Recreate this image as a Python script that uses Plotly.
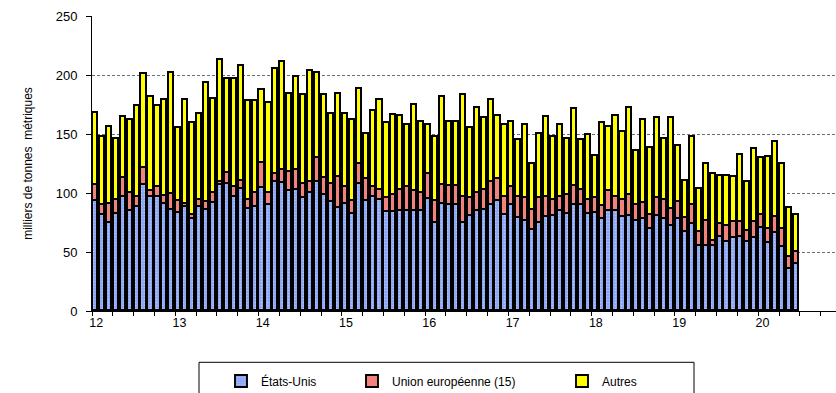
import pandas as pd
import plotly.graph_objects as go

# Monthly shipments, Jan 2012 - Jun 2020 (thousand metric tonnes)
months = pd.date_range("2012-01-01", periods=102, freq="MS").strftime("%Y-%m").tolist()

etats_unis = [
    93, 81, 75, 82, 97, 85, 88, 107, 97, 97, 91, 85.5,
    83, 88, 78, 88.4, 85.8, 91.3, 106.4, 107.7, 96.9, 103.3, 86.7, 88.4,
    104.5, 89.9, 109, 108.5, 101.5, 102.9, 96, 100.3, 109, 98.5, 92.8, 87,
    90.7, 82.2, 107.5, 93, 96.3, 94.3, 83.6, 83.6, 85, 85, 84.5, 85,
    94.9, 74.6, 90.7, 89.8, 89.8, 74.6, 80.8, 85, 85.6, 89.8, 93, 81.4,
    89.8, 78.8, 76.6, 69, 74.6, 79.4, 80.8, 85, 82.2, 89.8, 89.8, 82.2,
    83, 78, 85, 85, 79.4, 80.8, 76.6, 78, 69.5, 80.8, 78, 72.4,
    78, 66.7, 73.8, 55.5, 55.5, 55.5, 62.5, 58.8, 61.7, 62.5, 58.8, 61.7,
    70.1, 57.4, 65.9, 54.1, 35.2, 40,
]
union_europeenne = [
    14, 9, 16, 12, 16, 15, 9, 14, 5, 8, 6.5, 13.5,
    10, 2.5, 3, 5.9, 7, 9, 2.6, 9, 8.6, 7.1, 7.6, 11.9,
    20.8, 10.1, 7.5, 10.6, 16.2, 16.2, 11.7, 8.7, 20.5, 13.8, 14.6, 26.5,
    14.6, 11.3, 17.5, 18.8, 8.4, 8.2, 11.8, 14.9, 17.5, 19.7, 17.5, 15,
    21.6, 18.4, 16.3, 16.2, 16.2, 22.4, 14.6, 15, 17.2, 19.2, 18.8, 15.6,
    14.9, 18.2, 18.8, 16.6, 20.8, 17.6, 13.2, 12, 16.3, 16.2, 13, 12.1,
    12.9, 11.2, 16.4, 12, 14.9, 17.7, 13.4, 13.2, 11.9, 14.6, 16.3, 14,
    14.6, 12.1, 16, 11.7, 21.1, 3.6, 11.3, 13, 13.5, 12.7, 8.8, 13.5,
    11.3, 12.1, 13.5, 15.4, 10.4, 9.8,
]
autres = [
    61, 57.5, 65, 52, 51, 62, 77, 79.5, 79, 69, 81, 103,
    62, 88, 78.5, 72.4, 100.2, 79.7, 103.3, 80.3, 91.5, 97.4, 84, 78,
    61.7, 76.5, 88.2, 91.5, 66.3, 79.4, 75.1, 94.1, 72.5, 70.4, 59.3, 70.5,
    61.4, 68.7, 63.4, 38.5, 64.8, 76, 63.8, 67.9, 62.5, 53, 72.3, 60.5,
    41.2, 54.5, 74.3, 54.5, 54.5, 86, 59.3, 72.3, 60.8, 69.5, 53.2, 60.7,
    55.8, 47.7, 62.3, 39.4, 54.9, 67.7, 53.5, 60.7, 47.6, 64.9, 41.9, 54.7,
    35.6, 70.4, 54.6, 68.3, 57.4, 73.8, 45.7, 70.7, 57.1, 67.9, 51.8, 76.9,
    47.3, 31.6, 57.7, 36.1, 48.4, 56.9, 40.8, 42.8, 38, 57.1, 41.4, 61.9,
    48.1, 61.1, 63.9, 55.5, 41.4, 31.6,
]

year_labels = ["12", "13", "14", "15", "16", "17", "18", "19", "20"]

x = list(range(len(months)))
FONT = "Liberation Sans, Arial, sans-serif"

series = [
    ("États-Unis", etats_unis, "#8aa5f3", "legend"),
    ("Union européenne (15)", union_europeenne, "#f2837c", "legend2"),
    ("Autres", autres, "#ffff00", "legend3"),
]

fig = go.Figure()
for name, vals, color, leg in series:
    pattern = None
    if name == "États-Unis":
        pattern = dict(shape=".", fillmode="overlay", fgcolor="#dfe7ff",
                       size=3, solidity=0.25)
    fig.add_trace(go.Bar(
        x=x, y=vals, name=name, legend=leg, showlegend=True,
        customdata=months,
        hovertemplate="%{customdata}: %{y}<extra>" + name + "</extra>",
        width=0.74,
        marker=dict(color=color, line=dict(color="black", width=1.9),
                    pattern=pattern),
    ))

# year labels sit slightly right of the year tick marks
year_pos = [-0.5 + 12 * i + 0.6 for i in range(len(year_labels))]

# legend entries are placed in figure (container) coordinates so they do
# not push the plot margins
legend_common = dict(orientation="h", xanchor="left", yanchor="middle",
                     yref="container", y=(393 - 381) / 393,
                     bgcolor="rgba(0,0,0,0)", borderwidth=0,
                     font=dict(family=FONT, size=12, color="black"))

fig.update_layout(
    width=836, height=393,
    margin=dict(l=92, r=0, t=16, b=82),
    paper_bgcolor="white", plot_bgcolor="white",
    barmode="stack", bargap=0,
    showlegend=True,
    font=dict(family=FONT, size=12, color="black"),
    xaxis=dict(
        range=[-0.5, 106.7],
        tickmode="array", tickvals=year_pos, ticktext=year_labels,
        ticks="", showgrid=False, zeroline=False,
        showline=True, linecolor="black", linewidth=1,
        tickfont=dict(family=FONT, size=12.5, color="black"),
        minor=dict(tickmode="linear", tick0=-0.5, dtick=3,
                   ticks="outside", ticklen=4, tickcolor="black",
                   showgrid=False),
    ),
    yaxis=dict(
        range=[0, 250], tickmode="linear", tick0=0, dtick=50,
        ticks="outside", ticklen=5, tickcolor="black",
        showline=True, linecolor="black", linewidth=1,
        showgrid=True, gridcolor="#6e6e6e", gridwidth=1, griddash="3px,2px",
        zeroline=False,
        tickfont=dict(family=FONT, size=13, color="black"),
        ticklabelstandoff=6,
        title=dict(text="milliers de tonnes  métriques",
                   font=dict(family=FONT, size=12, color="black"),
                   standoff=20),
    ),
    legend=dict(legend_common, x=(221 - 92) / 744),
    legend2=dict(legend_common, x=(352 - 92) / 744),
    legend3=dict(legend_common, x=(562 - 92) / 744),
    shapes=[dict(type="rect", xref="paper", yref="paper",
                 x0=(199 - 92) / 744, x1=(694 - 92) / 744,
                 y0=-0.32, y1=(310.7 - 362) / 295,
                 line=dict(color="black", width=1), fillcolor="rgba(0,0,0,0)",
                 layer="below")],
)

fig.write_html("out.html")
